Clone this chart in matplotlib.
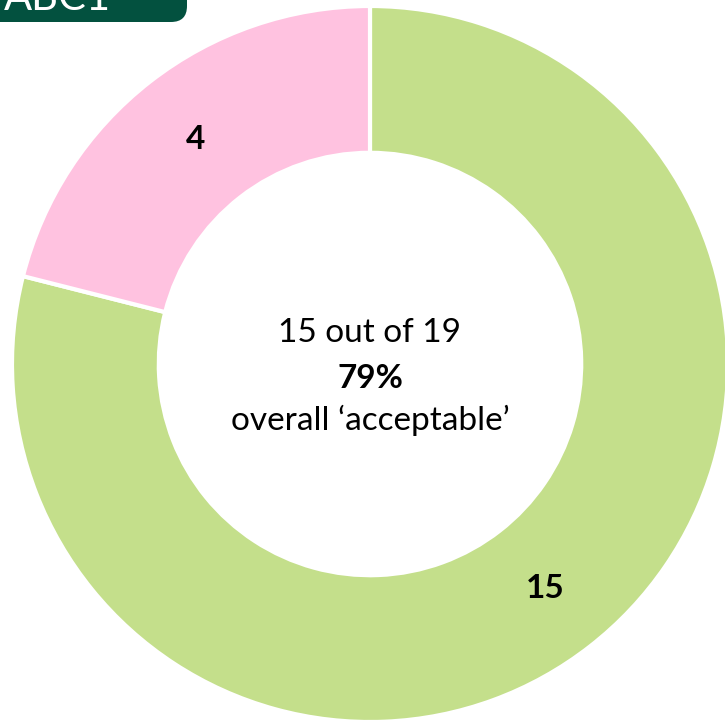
import matplotlib.pyplot as plt
from matplotlib.patches import FancyBboxPatch

# segment data
labels = ["acceptable", "not acceptable"]
counts = [15, 4]
colors = ["#C4DF8B", "#FFC2E0"]
total = sum(counts)
share = round(100 * counts[0] / total)

W, H = 725, 722
fig = plt.figure(figsize=(W / 100, H / 100), dpi=100)
ax = fig.add_axes([0, 0, 1, 1])

outer = 358
ring = 0.41
cx, cy = 370, H - 364
wedges, texts, autotexts = ax.pie(
    counts,
    colors=colors,
    startangle=90,
    counterclock=False,
    center=(cx, cy),
    radius=outer,
    frame=True,
    autopct=lambda p: f"{round(p * total / 100)}",
    pctdistance=1 - ring / 2,
    wedgeprops=dict(width=outer * ring, edgecolor="white", linewidth=3),
    textprops=dict(fontsize=24, fontweight="bold", family="Lato", color="black"),
)
ax.set_xlim(0, W)
ax.set_ylim(0, H)
ax.set_aspect("equal")
ax.axis("off")

# centre summary
ax.text(cx, cy + 31, f"{counts[0]} out of {total}", ha="center", va="center",
        fontsize=24, family="Lato")
ax.text(cx, cy - 15, f"{share}%", ha="center", va="center",
        fontsize=24, family="Lato", fontweight="bold")
ax.text(cx, cy - 56, "overall \u2018acceptable\u2019", ha="center", va="center",
        fontsize=24, family="Lato")

# group tag in the corner
tag = FancyBboxPatch((-40, H - 22), 227, 60, boxstyle="round,pad=0,rounding_size=16",
                     facecolor="#03513F", edgecolor="none", clip_on=False)
ax.add_patch(tag)
ax.text(4, H - 10, "ABC1", ha="left", va="baseline", fontsize=30,
        family="Lato", color="white")

fig.savefig("out.png", dpi=100)
